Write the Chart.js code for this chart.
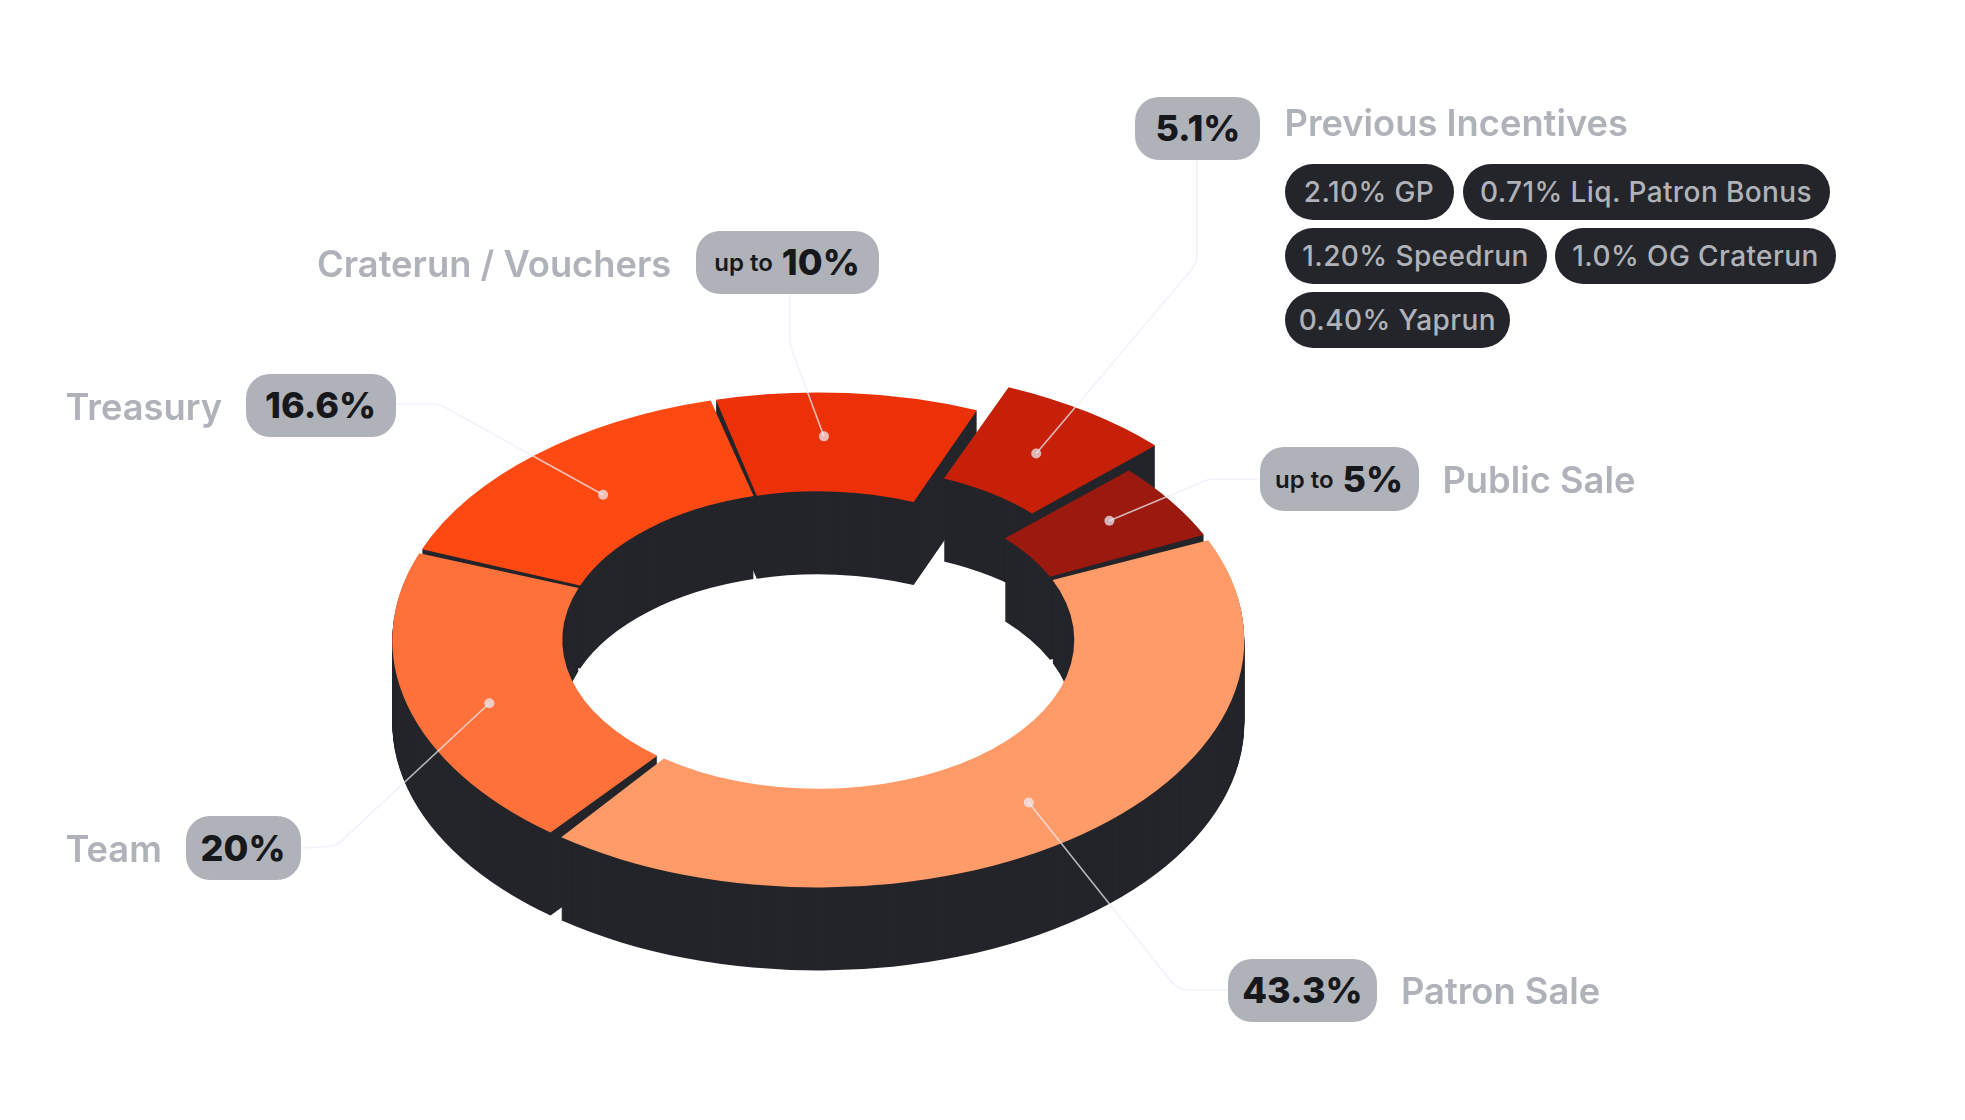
<!DOCTYPE html>
<html>
<head>
<meta charset="utf-8">
<title>Token allocation</title>
<script src="https://cdn.jsdelivr.net/npm/chart.js@4/dist/chart.umd.min.js"></script>
<style>
    html, body { margin: 0; background: #fff; }
    body { position: relative; width: 1965px; height: 1120px; overflow: hidden; font-family: Inter, sans-serif; }
    canvas { position: absolute; left: 0; top: 0; }
    .name { position: absolute; color: #b0b2b9; font-size: 36.3px; font-weight: 600; line-height: 44px; white-space: nowrap; }
    .pill { position: absolute; height: 63.5px; border-radius: 24px; background: #b0b2b9; color: #17181c;
            font-size: 36px; font-weight: 800; display: flex; align-items: center; justify-content: center; white-space: nowrap; }
    .pill small { font-size: 24px; font-weight: 600; margin-right: 9px; }
    .tag { position: absolute; height: 55.5px; border-radius: 28px; background: #24252a; color: #b0b2b9;
           font-size: 28px; font-weight: 500; display: flex; align-items: center; justify-content: center; white-space: nowrap; letter-spacing: 0.4px; }
</style>
</head>
<body>
<canvas id="myChart" width="1965" height="1120"></canvas>
<script>
// Datos
const categories = ["Patron Sale", "Team", "Treasury", "Craterun / Vouchers", "Previous Incentives", "Public Sale"];
// Percentages printed on the pills
const printedShares = [43.3, 20, 16.6, 10, 5.1, 5];
const sharePrefix = ["", "", "", "up to", "", "up to"];
// Arc sizes as actually drawn in the picture (they differ a little from the printed numbers)
const drawnShares = [42.6, 20.2, 15.2, 10.1, 6.8, 5.1];
const incentiveTags = ["2.10% GP", "0.71% Liq. Patron Bonus", "1.20% Speedrun", "1.0% OG Craterun", "0.40% Yaprun"];

const sliceColors = ["#ff9b68", "#ff713b", "#ff4912", "#ec3008", "#c62108", "#9c190f"];
const wallColor = "#24252a";

// Disc geometry
const discX = 818.3;
const discY = 640;
const discRadius = 420.5;
const squash = 0.581;
const depth = 83;
const sliceLift = [0, 0, 0, 0, 50, 0];
const dotNudge = [[-1, 7], [0, 11], [11, 3], [-18, -6], [-3, 1], [9, -8]];

// Label layout
const pillBoxes = [
    { left: 1228, top: 958.7, width: 149 },
    { left: 185.5, top: 816, width: 115 },
    { left: 245.6, top: 373.5, width: 150 },
    { left: 695.5, top: 230.6, width: 183 },
    { left: 1135.4, top: 96.5, width: 125 },
    { left: 1259.5, top: 447.4, width: 159 }
];
const nameBoxes = [
    { left: 1401, top: 969 },
    { left: 65.4, top: 827 },
    { left: 65.4, top: 385 },
    { left: 317, top: 242.4 },
    { left: 1284.5, top: 100.8 },
    { left: 1442.4, top: 458 }
];
const tagBoxes = [
    { left: 1284.5, top: 164, width: 169 },
    { left: 1462.5, top: 164, width: 367 },
    { left: 1284.5, top: 228, width: 262 },
    { left: 1555, top: 228, width: 281 },
    { left: 1284.5, top: 292, width: 225.6 }
];
// Leader lines: start at the pill, bend once, end on the slice
const leaderPaths = [
    { from: [1228, 990], bend: [1178, 990] },
    { from: [301, 848], bend: [336, 846] },
    { from: [395, 404], bend: [439, 404] },
    { from: [790, 294], bend: [790, 345] },
    { from: [1197, 159], bend: [1197, 263] },
    { from: [1259, 479], bend: [1209, 479] }
];

// Pills and names
categories.forEach((name, i) => {
    const label = document.createElement("div");
    label.className = "name";
    label.textContent = name;
    label.style.left = nameBoxes[i].left + "px";
    label.style.top = nameBoxes[i].top + "px";
    document.body.appendChild(label);

    const pill = document.createElement("div");
    pill.className = "pill";
    pill.style.left = pillBoxes[i].left + "px";
    pill.style.top = pillBoxes[i].top + "px";
    pill.style.width = pillBoxes[i].width + "px";
    if (sharePrefix[i]) {
        const prefix = document.createElement("small");
        prefix.textContent = sharePrefix[i];
        pill.appendChild(prefix);
    }
    pill.appendChild(document.createTextNode(printedShares[i] + "%"));
    document.body.appendChild(pill);
});

incentiveTags.forEach((text, i) => {
    const tag = document.createElement("div");
    tag.className = "tag";
    tag.textContent = text;
    tag.style.left = tagBoxes[i].left + "px";
    tag.style.top = tagBoxes[i].top + "px";
    tag.style.width = tagBoxes[i].width + "px";
    document.body.appendChild(tag);
});

// Puts the flat doughnut on its side, dy pixels lower on the page
function tilt(ctx, chart, dy) {
    const area = chart.chartArea;
    ctx.translate(0, discY + dy);
    ctx.scale(1, squash);
    ctx.translate(0, -(area.top + area.bottom) / 2);
}

const isoDisc = {
    id: "isoDisc",
    afterDatasetsUpdate(chart) {
        const arcs = chart.getDatasetMeta(0).data;
        arcs.forEach((arc, i) => {
            const mid = (arc.startAngle + arc.endAngle) / 2;
            arc.x += Math.cos(mid) * sliceLift[i];
            arc.y += Math.sin(mid) * sliceLift[i];
        });
    },
    beforeDatasetsDraw(chart) {
        const ctx = chart.ctx;
        const arcs = chart.getDatasetMeta(0).data;
        // side walls: stacked dark copies of every slice, lowest first
        for (let dy = depth; dy > 0; dy--) {
            ctx.save();
            tilt(ctx, chart, dy);
            arcs.forEach((arc) => {
                const own = arc.options;
                arc.options = { ...own, backgroundColor: wallColor, borderColor: wallColor };
                arc.draw(ctx);
                arc.options = own;
            });
            ctx.restore();
        }
        ctx.save();
        tilt(ctx, chart, 0);
    },
    afterDatasetsDraw(chart) {
        const ctx = chart.ctx;
        ctx.restore();
        const area = chart.chartArea;
        const centerY = (area.top + area.bottom) / 2;
        chart.getDatasetMeta(0).data.forEach((arc, i) => {
            const p = arc.getCenterPoint();
            const x = p.x + dotNudge[i][0];
            const y = discY + (p.y - centerY) * squash + dotNudge[i][1];
            const path = leaderPaths[i];
            ctx.strokeStyle = "rgba(236, 238, 248, 0.72)";
            ctx.fillStyle = "rgba(236, 238, 248, 0.72)";
            ctx.lineWidth = 1.6;
            ctx.beginPath();
            ctx.moveTo(path.from[0], path.from[1]);
            ctx.arcTo(path.bend[0], path.bend[1], x, y, 22);
            ctx.lineTo(x, y);
            ctx.stroke();
            ctx.beginPath();
            ctx.arc(x, y, 5, 0, Math.PI * 2);
            ctx.fill();
        });
    }
};

new Chart("myChart", {
    type: "doughnut",
    data: {
        labels: categories,
        datasets: [{
            data: drawnShares,
            backgroundColor: sliceColors,
            borderWidth: 0,
            spacing: 11,
            clip: false
        }]
    },
    options: {
        responsive: false,
        animation: false,
        rotation: 65,
        radius: discRadius,
        cutout: "59.57%",
        layout: { padding: { right: 1965 - discX * 2 } },
        events: [],
        plugins: { legend: { display: false }, tooltip: { enabled: false } }
    },
    plugins: [isoDisc]
});
</script>
</body>
</html>
